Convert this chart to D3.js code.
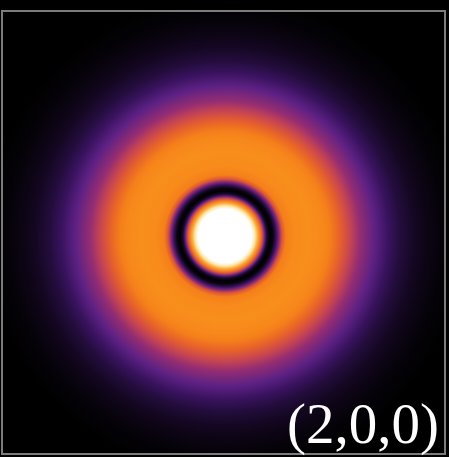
<!DOCTYPE html>
<html>
<head>
<meta charset="utf-8">
<script src="https://cdn.jsdelivr.net/npm/d3@7"></script>
<style>
  html, body { margin: 0; padding: 0; background: #000; }
  svg { display: block; }
</style>
</head>
<body>
<svg id="chart" width="449" height="457"></svg>
<script>
// Orbital label (n, l, m)
const quantumNumbers = [2, 0, 0];

// Radial profile of the 2s density map: distance from the nucleus (px)
// and the colour level it shows (0 = black, 1 = white)
const radii  = [0, 27, 30, 33, 36, 38, 40, 42, 45, 48, 51, 54, 57, 61, 70, 85, 98, 105, 115, 125, 135, 150, 163, 175, 190, 205, 220, 240];
const levels = [1.0, 1.0, 0.93, 0.82, 0.66, 0.5, 0.28, 0.1, 0.0, 0.04, 0.18, 0.38, 0.58, 0.7, 0.74, 0.75, 0.73, 0.7, 0.62, 0.52, 0.42, 0.3, 0.2, 0.13, 0.075, 0.04, 0.015, 0.0];

// Colour ramp: black, violet, red, orange, pale yellow, white
const rampLevels = [0, 0.1, 0.2, 0.3, 0.4, 0.5, 0.6, 0.7, 0.76, 0.85, 0.93, 1];
const rampColors = ["#000000", "#1b0a2e", "#3a1360", "#5d2184", "#8a2878", "#c0405a",
                    "#e2592f", "#f57f1a", "#f9911c", "#fbb446", "#fde8a8", "#ffffff"];

const W = 449, H = 457;
const panel = { x: 2, y: 11, w: 443, h: 443 };
const center = { x: 225, y: 236 };
const rMax = d3.max(radii);

const svg = d3.select("#chart");
svg.append("rect").attr("width", W).attr("height", H).attr("fill", "#000");

const color = d3.scaleLinear()
  .domain(rampLevels)
  .range(rampColors)
  .interpolate(d3.interpolateRgb)
  .clamp(true);

const offset = d3.scaleLinear().domain([0, rMax]).range([0, 1]);

const defs = svg.append("defs");
const grad = defs.append("radialGradient")
  .attr("id", "density")
  .attr("gradientUnits", "userSpaceOnUse")
  .attr("cx", center.x).attr("cy", center.y)
  .attr("fx", center.x).attr("fy", center.y)
  .attr("r", rMax);

grad.selectAll("stop")
  .data(d3.zip(radii, levels))
  .join("stop")
  .attr("offset", d => offset(d[0]))
  .attr("stop-color", d => color(d[1]));

defs.append("clipPath").attr("id", "panelClip")
  .append("rect")
  .attr("x", panel.x).attr("y", panel.y)
  .attr("width", panel.w).attr("height", panel.h);

svg.append("rect")
  .attr("x", panel.x).attr("y", panel.y)
  .attr("width", panel.w).attr("height", panel.h)
  .attr("fill", "url(#density)")
  .attr("clip-path", "url(#panelClip)");

// Frame
svg.append("rect")
  .attr("x", panel.x).attr("y", panel.y)
  .attr("width", panel.w).attr("height", panel.h)
  .attr("fill", "none")
  .attr("stroke", "#7c7c7c")
  .attr("stroke-width", 2);

// Label
svg.append("text")
  .attr("x", 439).attr("y", 443)
  .attr("text-anchor", "end")
  .attr("font-family", "'Liberation Serif', 'Times New Roman', serif")
  .attr("font-size", 57)
  .attr("fill", "#ffffff")
  .text("(" + quantumNumbers.join(",") + ")");
</script>
</body>
</html>
